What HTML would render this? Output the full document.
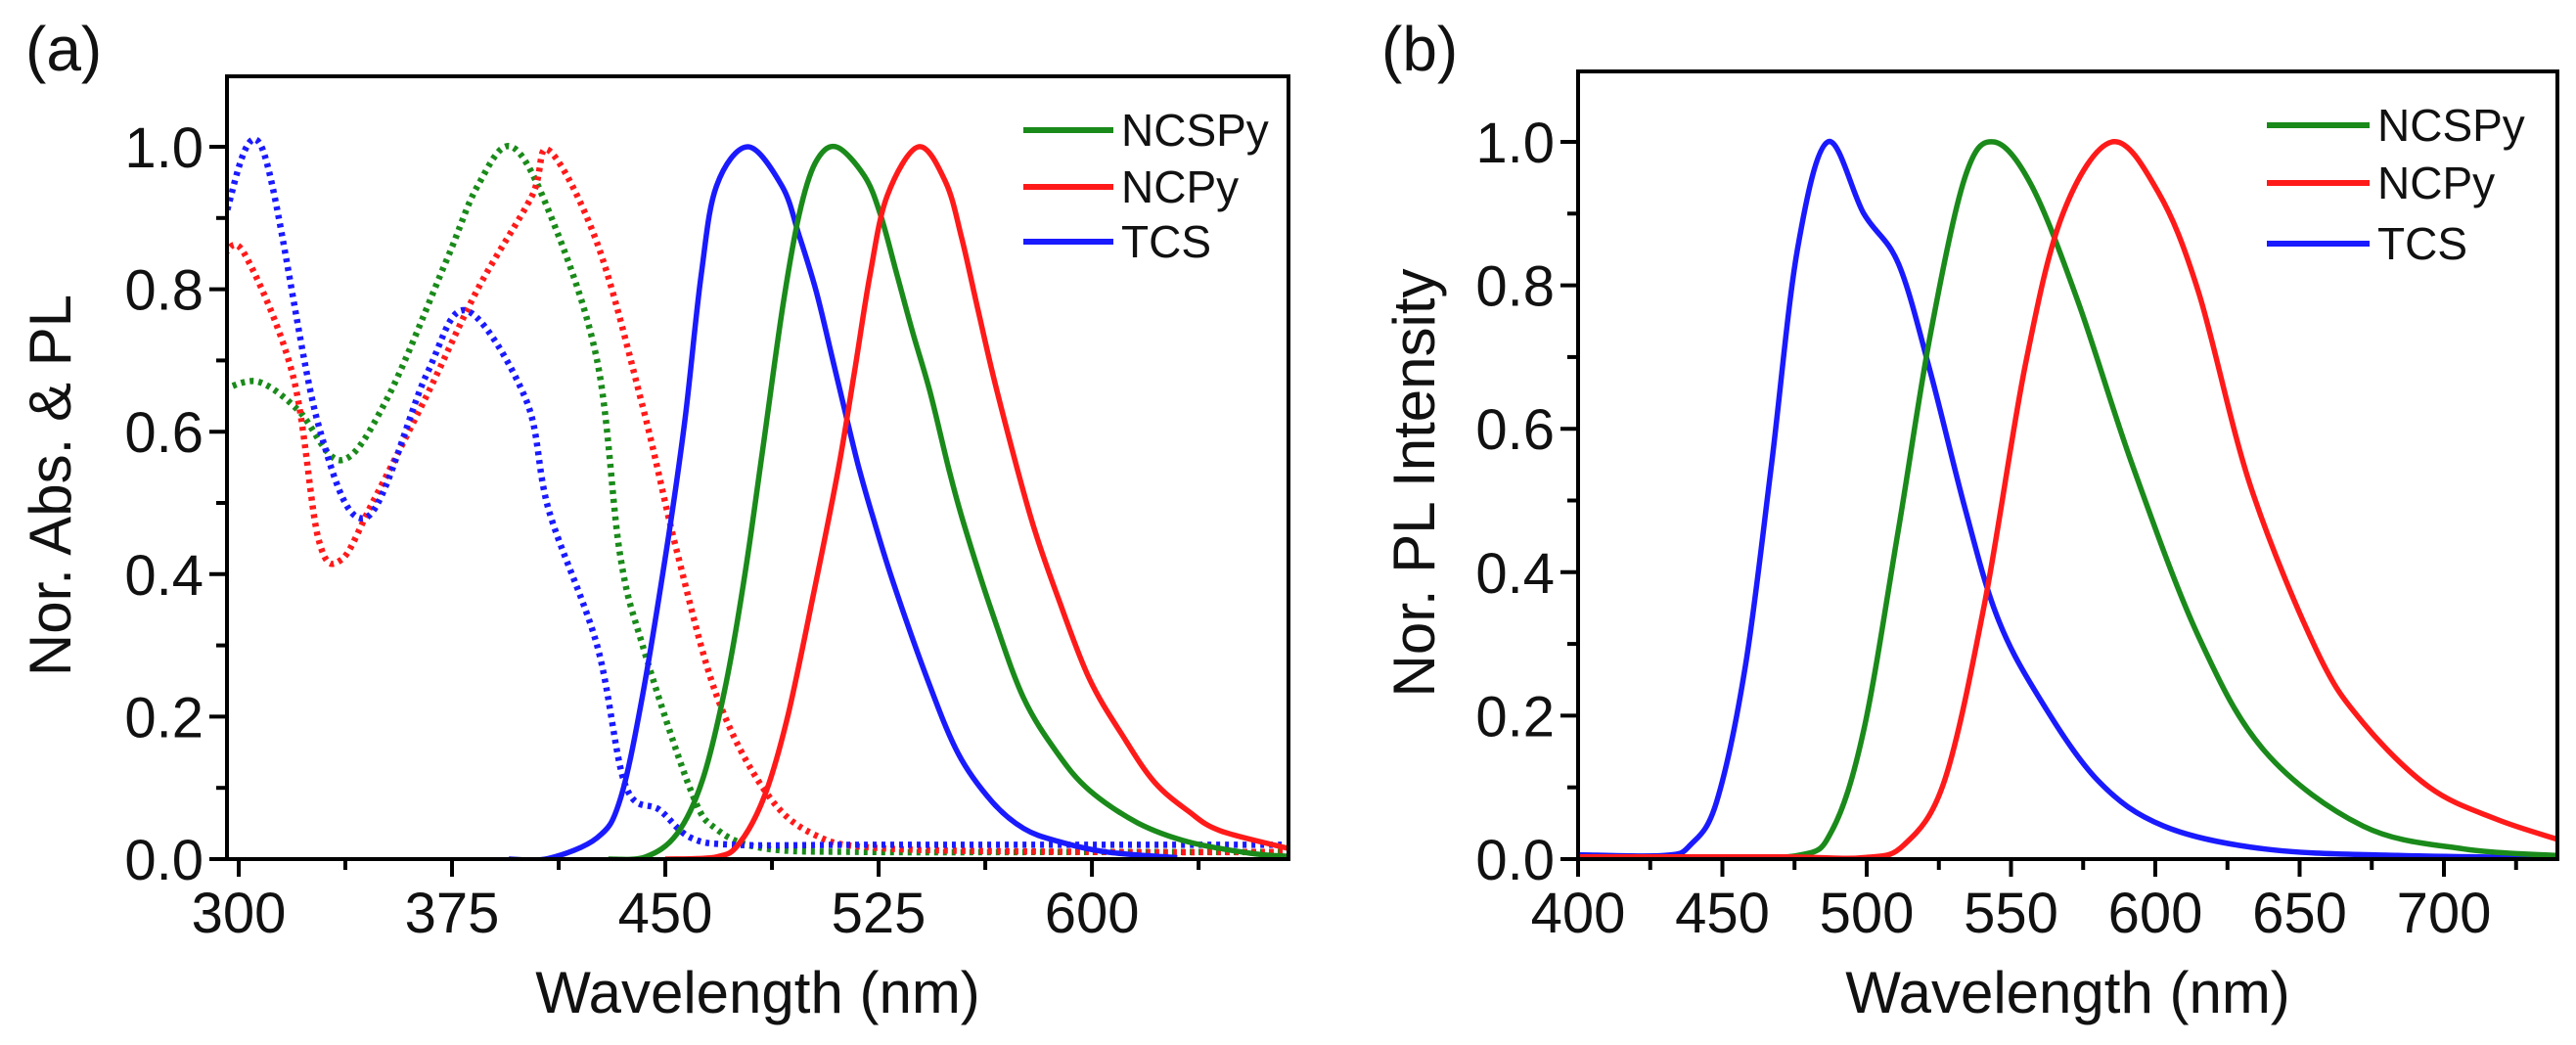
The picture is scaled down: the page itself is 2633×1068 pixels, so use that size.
<!DOCTYPE html>
<html><head><meta charset="utf-8"><style>
html,body{margin:0;padding:0;background:#fff;}
svg{display:block;font-family:"Liberation Sans",Arial,sans-serif;}
</style></head><body>
<svg id="fig" width="2633" height="1068" viewBox="0 0 2633 1068" xmlns="http://www.w3.org/2000/svg"></svg>
<script>
// ---- Panel (a) data ----
const aNcspyAbsX = [295,307,321,336,352,373,384,396,410,426,434,442,459,468,485,520,600,669];
const aNcspyAbsY = [0.66,0.67,0.63,0.56,0.645,0.84,0.945,1.0,0.90,0.70,0.43,0.30,0.096,0.042,0.015,0.01,0.01,0.01];
const aNcpyAbsX = [295,302,319,328,336,347,366,384,403,409,426,442,454,468,485,502,527,600,669];
const aNcpyAbsY = [0.85,0.85,0.68,0.45,0.42,0.5,0.65,0.80,0.93,0.995,0.865,0.636,0.433,0.23,0.096,0.035,0.015,0.01,0.01];
const aTcsAbsX = [295,308,328,345,366,380,401,409,426,436,448,459,475,520,600,669];
const aTcsAbsY = [0.9,1.0,0.61,0.48,0.68,0.77,0.645,0.49,0.30,0.103,0.069,0.03,0.02,0.02,0.02,0.02];
const aTcsPlX = [395,409,426,434,442,451,457,462.6,468,479,491,497,503,508.5,514,518,523,530,542,553,565,576,588,605,630];
const aTcsPlY = [0,0.001,0.03,0.082,0.23,0.45,0.62,0.82,0.945,1.0,0.945,0.876,0.798,0.707,0.615,0.55,0.48,0.39,0.254,0.148,0.08,0.043,0.025,0.01,0.002];
const aNcspyPlX = [430,443,454,463,471,478,484.4,491.3,497,502.7,510,520,525.7,531.4,537,543,549.7,555,565,576,588,599,616,634,656,669];
const aNcspyPlY = [0,0.003,0.035,0.11,0.24,0.40,0.58,0.776,0.904,0.977,1.0,0.959,0.904,0.821,0.739,0.657,0.547,0.47,0.345,0.226,0.148,0.097,0.051,0.024,0.008,0.004];
const aNcpyPlX = [450,468,476,485,493,502,510.8,516.5,522,528,539,548.6,554.3,560,565.8,573.8,580,588,599,611,622,634,645,669];
const aNcpyPlY = [0,0.003,0.022,0.09,0.2,0.37,0.547,0.684,0.821,0.931,1.0,0.95,0.87,0.77,0.67,0.547,0.46,0.368,0.254,0.172,0.108,0.067,0.04,0.015];
const aXTicks = [300,375,450,525,600];
const aXTickLabels = ["300","375","450","525","600"];
const yTicks = [0,0.2,0.4,0.6,0.8,1.0];
const yTickLabels = ["0.0","0.2","0.4","0.6","0.8","1.0"];
// ---- Panel (b) data ----
const bTcsX = [400,430,439,448,458,467,476,486.5,499,511,522,534,545,559,580,603,638,684,739];
const bTcsY = [0.006,0.005,0.02,0.08,0.27,0.55,0.85,1.0,0.9,0.83,0.68,0.49,0.34,0.23,0.11,0.046,0.014,0.005,0.002];
const bNcspyX = [400,440,476,488,499,511,522,534,544,557,573,592,615,638,672,707,739];
const bNcspyY = [0.003,0.003,0.005,0.04,0.18,0.46,0.73,0.95,1.0,0.94,0.78,0.55,0.31,0.15,0.046,0.014,0.005];
const bNcpyX = [400,470,499,513,527,541,555,568,585,601,615,633,656,672,695,718,739];
const bNcpyY = [0.003,0.003,0.002,0.02,0.11,0.36,0.69,0.9,1.0,0.93,0.79,0.52,0.29,0.19,0.10,0.056,0.028];
const bXTicks = [400,450,500,550,600,650,700];
const bXTickLabels = ["400","450","500","550","600","650","700"];

const GREEN="#1a8a1a", RED="#ff1a1a", BLUE="#1a1aff";
const NS="http://www.w3.org/2000/svg";
const svg=document.getElementById('fig');
function mk(tag,attrs,parent){const e=document.createElementNS(NS,tag);for(const k in attrs)e.setAttribute(k,attrs[k]);(parent||svg).appendChild(e);return e;}

function smoothPath(pts){
  let d="M"+pts[0][0].toFixed(1)+","+pts[0][1].toFixed(1);
  for(let i=0;i<pts.length-1;i++){
    const p0=pts[Math.max(0,i-1)],p1=pts[i],p2=pts[i+1],p3=pts[Math.min(pts.length-1,i+2)];
    const t=1/6;
    const c1=[p1[0]+(p2[0]-p0[0])*t,p1[1]+(p2[1]-p0[1])*t];
    const c2=[p2[0]-(p3[0]-p1[0])*t,p2[1]-(p3[1]-p1[1])*t];
    d+=" C"+c1[0].toFixed(1)+","+c1[1].toFixed(1)+" "+c2[0].toFixed(1)+","+c2[1].toFixed(1)+" "+p2[0].toFixed(1)+","+p2[1].toFixed(1);
  }
  return d;
}

function panel(cfg){
  const g=mk('g',{});
  
  
  const sx=v=>cfg.x0+(v-cfg.xmin)*cfg.pxPerNm;
  const sy=v=>cfg.y0-v*cfg.pxPerUnit;
  const clipId=cfg.name+'-clip';
  const defs=mk('defs',{},g);
  const cp=mk('clipPath',{id:clipId},defs);
  mk('rect',{x:cfg.left,y:cfg.top,width:cfg.right-cfg.left,height:cfg.y0-cfg.top},cp);
  const plot=mk('g',{'clip-path':'url(#'+clipId+')'},g);
  cfg.series.forEach(s=>{
    const pts=s.x.map((v,i)=>[sx(v),sy(s.y[i])]);
    const p=mk('path',{d:smoothPath(pts),fill:'none',stroke:s.color,'stroke-width':s.dotted?6.5:5.5,'stroke-linejoin':'round'},plot);
    if(s.dotted)p.setAttribute('stroke-dasharray','4 5');
    
    
  });
  const fr=mk('rect',{x:cfg.left,y:cfg.top,width:cfg.right-cfg.left,height:cfg.y0-cfg.top,fill:'none',stroke:'#000','stroke-width':4},g);
  
  
  for(let v=cfg.xmin;v<=cfg.xmaxAxis+0.01;v+=cfg.minorStep){
    const X=sx(v);
    if(X<cfg.left-1||X>cfg.right+1)continue;
    const major=cfg.xTicks.some(t=>Math.abs(t-v)<0.01);
    mk('line',{x1:X,y1:cfg.y0,x2:X,y2:cfg.y0+(major?18:11),stroke:'#000','stroke-width':4},g);
  }
  cfg.xTicks.forEach((t,i)=>{
    const tx=mk('text',{x:sx(t),y:cfg.y0+75,'font-size':58,'text-anchor':'middle',fill:'#111'},g);
    tx.textContent=cfg.xTickLabels[i];
    
    
  });
  for(let k=0;k<=10;k++){
    const v=k/10,Y=sy(v),major=k%2===0;
    mk('line',{x1:cfg.left,y1:Y,x2:cfg.left-(major?18:11),y2:Y,stroke:'#000','stroke-width':4},g);
  }
  yTicks.forEach((t,i)=>{
    const tx=mk('text',{x:cfg.left-24,y:sy(t)+21,'font-size':58,'text-anchor':'end',fill:'#111'},g);
    tx.textContent=yTickLabels[i];
    
    
  });
  const xt=mk('text',{x:(cfg.left+cfg.right)/2,y:1035,'font-size':60,'text-anchor':'middle',fill:'#111'},g);
  xt.textContent='Wavelength (nm)';
  
  
  const yt=mk('text',{x:0,y:0,'font-size':60,'text-anchor':'middle',fill:'#111',transform:'translate('+cfg.ytX+','+((cfg.top+cfg.y0)/2+18)+') rotate(-90)'},g);
  yt.textContent=cfg.yTitle;
  
  
  const pl=mk('text',{x:cfg.labelX,y:72,'font-size':64,fill:'#111'},g);
  pl.textContent=cfg.label;
  
  
  const leg=[['NCSPy',GREEN],['NCPy',RED],['TCS',BLUE]];
  const lys=cfg.legY;
  leg.forEach((l,i)=>{
    const lg=mk('g',{},g);
    
    
    mk('line',{x1:cfg.legX,y1:lys[i],x2:cfg.legX+cfg.legW,y2:lys[i],stroke:l[1],'stroke-width':6},lg);
    const t=mk('text',{x:cfg.legX+cfg.legW+8,y:lys[i]+16,'font-size':46,fill:'#111'},lg);
    t.textContent=l[0];
  });
}

panel({name:'panel-a',left:232,right:1317,top:78,y0:878,x0:244,xmin:300,xmaxAxis:669,pxPerNm:2.907,pxPerUnit:728,
  minorStep:37.5,xTicks:aXTicks,xTickLabels:aXTickLabels,yTitle:'Nor. Abs. & PL',ytX:72,label:'(a)',labelX:26,
  legX:1046,legW:92,legY:[133,191,247],
  series:[
    {name:'ncspy-absorption',x:aNcspyAbsX,y:aNcspyAbsY,color:GREEN,dotted:true},
    {name:'ncpy-absorption',x:aNcpyAbsX,y:aNcpyAbsY,color:RED,dotted:true},
    {name:'tcs-absorption',x:aTcsAbsX,y:aTcsAbsY,color:BLUE,dotted:true},
    {name:'tcs-pl',x:aTcsPlX,y:aTcsPlY,color:BLUE},
    {name:'ncspy-pl',x:aNcspyPlX,y:aNcspyPlY,color:GREEN},
    {name:'ncpy-pl',x:aNcpyPlX,y:aNcpyPlY,color:RED}
  ]});
panel({name:'panel-b',left:1613,right:2614,top:73,y0:878,x0:1613,xmin:400,xmaxAxis:740,pxPerNm:2.95,pxPerUnit:733,
  minorStep:25,xTicks:bXTicks,xTickLabels:bXTickLabels,yTitle:'Nor. PL Intensity',ytX:1466,label:'(b)',labelX:1412,
  legX:2317,legW:105,legY:[128,187,249],
  series:[
    {name:'tcs-pl',x:bTcsX,y:bTcsY,color:BLUE},
    {name:'ncspy-pl',x:bNcspyX,y:bNcspyY,color:GREEN},
    {name:'ncpy-pl',x:bNcpyX,y:bNcpyY,color:RED}
  ]});
</script>
</body></html>
